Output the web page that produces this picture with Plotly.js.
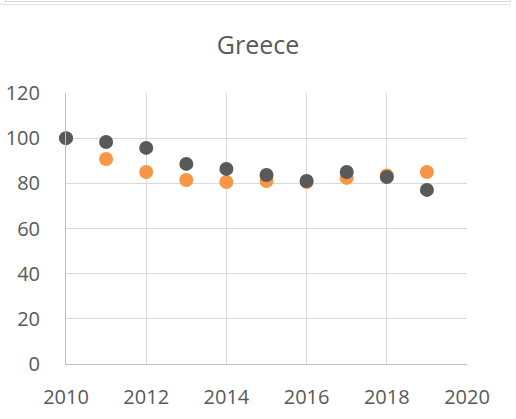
<!DOCTYPE html>
<html>
<head>
<meta charset="utf-8">
<script src="https://cdn.plot.ly/plotly-3.0.1.min.js"></script>
<style>
html,body{margin:0;padding:0;background:#fff;}
#wrap{position:relative;width:516px;height:419px;}
#frame{position:absolute;left:5px;top:-4px;width:504px;height:5px;border:1px solid #d9d9d9;border-top:none;pointer-events:none;}
#line{position:absolute;left:0;top:4px;width:511px;height:0;border-top:1px solid #e3e3e3;pointer-events:none;}
#chart{width:516px;height:419px;}
</style>
</head>
<body>
<div id="wrap">
<div id="chart"></div>
<div id="frame"></div>
<div id="line"></div>
</div>
<script>
const years = [2010, 2011, 2012, 2013, 2014, 2015, 2016, 2017, 2018, 2019];
const seriesOrange = [100, 90.8, 85.0, 81.5, 80.6, 81.0, 80.6, 82.4, 83.5, 85.0];
const seriesGray = [100, 98.3, 95.7, 88.6, 86.4, 83.7, 81.0, 85.0, 82.8, 77.1];
const chartTitle = "Greece";

const traces = [
  {x: years, y: seriesOrange, type: 'scatter', mode: 'markers', name: 'Series 1',
   marker: {size: 14, color: '#F79646'}, cliponaxis: false},
  {x: years, y: seriesGray, type: 'scatter', mode: 'markers', name: 'Series 2',
   marker: {size: 14, color: '#595959'}, cliponaxis: false}
];

const tickFont = {family: 'Open Sans, Liberation Sans, sans-serif', size: 20, color: '#595959'};

const layout = {
  width: 516, height: 419,
  margin: {l: 66, r: 49, t: 93, b: 55},
  paper_bgcolor: '#ffffff', plot_bgcolor: '#ffffff',
  showlegend: false,
  title: {text: chartTitle, x: 0.5, xanchor: 'center', y: 0.893, yanchor: 'middle',
          font: {family: 'Open Sans, Liberation Sans, sans-serif', size: 25, color: '#595959'}},
  xaxis: {range: [2010, 2020], dtick: 2, tick0: 2010, showgrid: true, gridcolor: '#d9d9d9', gridwidth: 1,
          zeroline: false, showline: true, linecolor: '#bfbfbf', linewidth: 1, mirror: false,
          ticks: '', tickfont: tickFont, ticklabelstandoff: 15, fixedrange: true},
  yaxis: {range: [0, 120], dtick: 20, tick0: 0, showgrid: true, gridcolor: '#d9d9d9', gridwidth: 1,
          zeroline: false, showline: true, linecolor: '#bfbfbf', linewidth: 1,
          ticks: '', tickfont: tickFont, ticklabelstandoff: 21, fixedrange: true}
};

Plotly.newPlot('chart', traces, layout, {displayModeBar: false, staticPlot: true});
</script>
</body>
</html>
